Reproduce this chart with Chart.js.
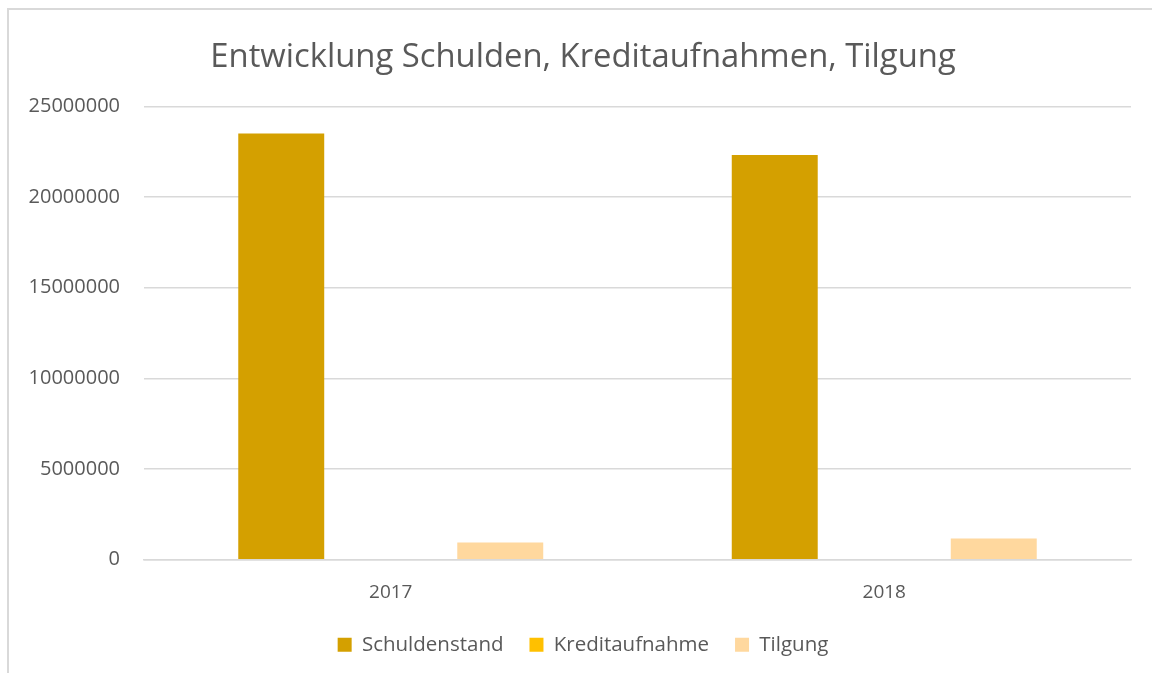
<!DOCTYPE html>
<html>
<head>
<meta charset="utf-8">
<script src="https://cdn.jsdelivr.net/npm/chart.js@4.4.1/dist/chart.umd.min.js"></script>
<style>
  html, body { margin: 0; padding: 0; background: #fff; overflow: hidden; }
  #frame { position: absolute; left: 7px; top: 8px; width: 1160px; height: 700px;
           border-left: 2px solid #D9D9D9; border-top: 2px solid #D9D9D9; }
  #wrap { position: absolute; left: 0; top: 0; width: 1166px; height: 673px; }
</style>
</head>
<body>
<div id="frame"></div>
<div id="wrap"><canvas id="c" width="1166" height="673"></canvas></div>
<script>
const chartTitle = "Entwicklung Schulden, Kreditaufnahmen, Tilgung";
const categories = ["2017", "2018"];
const seriesNames = ["Schuldenstand", "Kreditaufnahme", "Tilgung"];
const schuldenstand = [23510000, 22320000];
const kreditaufnahme = [0, 0];
const tilgung = [950000, 1170000];
const yTicks = [0, 5000000, 10000000, 15000000, 20000000, 25000000];
const colors = ["#D4A000", "#FFC000", "#FFD89E"];

const FONT = "'Open Sans', 'DejaVu Sans', sans-serif";
const TXT = "#595959";

new Chart(document.getElementById('c'), {
  type: 'bar',
  data: {
    labels: categories,
    datasets: [
      { label: seriesNames[0], data: schuldenstand, backgroundColor: colors[0] },
      { label: seriesNames[1], data: kreditaufnahme, backgroundColor: colors[1] },
      { label: seriesNames[2], data: tilgung, backgroundColor: colors[2] }
    ]
  },
  options: {
    responsive: false,
    animation: false,
    devicePixelRatio: 1,
    layout: { padding: { left: 0, right: 0, top: 38, bottom: 8 } },
    datasets: { bar: { categoryPercentage: 0.6657, barPercentage: 0.785 } },
    plugins: {
      title: {
        display: true, text: chartTitle, color: TXT,
        font: { family: FONT, size: 32.8, weight: 'normal' },
        padding: { top: 0, bottom: 29 }
      },
      legend: {
        position: 'bottom',
        labels: {
          color: TXT, boxWidth: 14, boxHeight: 14, padding: 10,
          font: { family: FONT, size: 20.5 },
          generateLabels: (chart) => {
            const items = Chart.defaults.plugins.legend.labels.generateLabels(chart);
            items.forEach((it, i) => {
              if (i < items.length - 1) it.text = it.text + '   ';
              it.lineWidth = 0;
            });
            return items;
          }
        }
      },
      tooltip: { enabled: false }
    },
    scales: {
      x: {
        grid: { display: false, drawTicks: false },
        border: { display: true, color: '#D9D9D9', width: 1.5 },
        ticks: { color: TXT, font: { family: FONT, size: 19 }, padding: 21 }
      },
      y: {
        min: 0, max: 25000000,
        afterBuildTicks: (axis) => { axis.ticks = yTicks.map(v => ({ value: v })); },
        afterFit: (axis) => { axis.width = 144; },
        grid: { color: '#D9D9D9', lineWidth: 1.5, drawTicks: false },
        border: { display: false },
        ticks: { color: TXT, font: { family: FONT, size: 20 }, padding: 24,
                 callback: (v) => String(v) }
      },
      yR: {
        type: 'linear', position: 'right', display: true,
        grid: { display: false, drawTicks: false },
        border: { display: false },
        ticks: { display: false },
        afterFit: (axis) => { axis.width = 35; }
      }
    }
  }
});
</script>
</body>
</html>
